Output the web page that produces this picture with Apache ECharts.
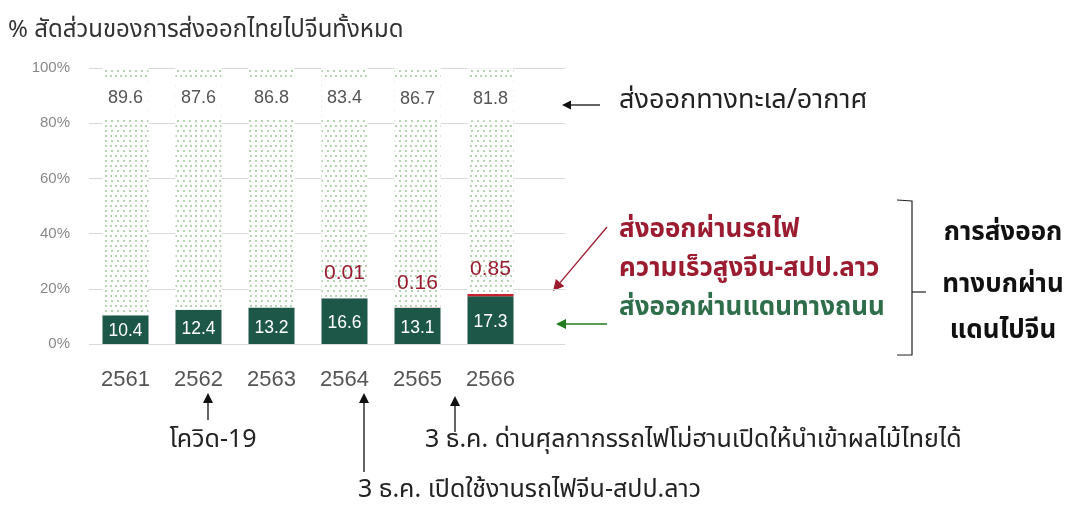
<!DOCTYPE html>
<html><head><meta charset="utf-8">
<script src="https://cdn.jsdelivr.net/npm/echarts@6/dist/echarts.min.js"></script>
<style>html,body{margin:0;padding:0;background:#fff}#c{width:1068px;height:507px}</style>
</head><body><div id="c"></div>
<script>
const years = ['2561','2562','2563','2564','2565','2566'];
const road = [10.4, 12.4, 13.2, 16.6, 13.1, 17.3];
const rail = [0, 0, 0, 0.01, 0.16, 0.85];
const seaAir = [89.6, 87.6, 86.8, 83.4, 86.7, 81.8];
const yTicks = [0, 20, 40, 60, 80, 100];

const TH = '"Noto Sans Thai", "Noto Sans", "DejaVu Sans", sans-serif';
const NUM = '"Liberation Sans", Arial, sans-serif';

function arrow(x1, y1, x2, y2, color, head) {
  head = head || 9;
  const a = Math.atan2(y2 - y1, x2 - x1);
  const bx = x2 - head * Math.cos(a), by = y2 - head * Math.sin(a);
  const w = head * 0.5;
  const px = -Math.sin(a) * w, py = Math.cos(a) * w;
  return [
    {type:'line', shape:{x1:x1, y1:y1, x2:bx, y2:by}, style:{stroke:color, lineWidth:1.3}},
    {type:'polygon', shape:{points:[[x2,y2],[bx+px,by+py],[bx-px,by-py]]}, style:{fill:color}}
  ];
}
function txt(x, y, t, opt) {
  return {type:'text', x:x, y:y, style:Object.assign({text:t, font:'25px ' + TH, fill:'#222', textVerticalAlign:'middle'}, opt || {})};
}

const red = '#9b1c31', green = '#2f6e4a';
const graphics = [].concat(
  [txt(8, 32, '% สัดส่วนของการส่งออกไทยไปจีนทั้งหมด', {font:'24px ' + TH, fill:'#333'})],
  arrow(600, 105, 562, 105, '#111'),
  [txt(619, 103, 'ส่งออกทางทะเล/อากาศ', {font:'27px ' + TH})],
  arrow(607, 227, 553, 291, red, 11),
  [txt(619, 232, 'ส่งออกผ่านรถไฟ', {fill:red, font:'bold 26px ' + TH}),
   txt(619, 271, 'ความเร็วสูงจีน-สปป.ลาว', {fill:red, font:'bold 26px ' + TH}),
   txt(619, 310, 'ส่งออกผ่านแดนทางถนน', {fill:green, font:'bold 26px ' + TH})],
  arrow(607, 324, 556, 324, '#1e7b1e', 10),
  [{type:'polyline', shape:{points:[[897,200],[912,201],[912,355],[897,355]]}, style:{stroke:'#222', lineWidth:1.2, fill:null}},
   {type:'line', shape:{x1:912, y1:292, x2:926, y2:292}, style:{stroke:'#222', lineWidth:1.2}},
   txt(1003, 235, 'การส่งออก', {font:'bold 26px ' + TH, fill:'#111', textAlign:'center'}),
   txt(1003, 287, 'ทางบกผ่าน', {font:'bold 26px ' + TH, fill:'#111', textAlign:'center'}),
   txt(1003, 333, 'แดนไปจีน', {font:'bold 26px ' + TH, fill:'#111', textAlign:'center'})],
  arrow(208, 420, 208, 393, '#111', 10),
  [txt(213, 442, 'โควิด-19', {font:'25px ' + TH, textAlign:'center'})],
  arrow(364, 472, 364, 393, '#111', 10),
  [txt(358, 492, '3 ธ.ค. เปิดใช้งานรถไฟจีน-สปป.ลาว', {font:'25px ' + TH})],
  arrow(455, 432, 455, 396, '#111', 10),
  [txt(425, 442, '3 ธ.ค. ด่านศุลกากรรถไฟโม่ฮานเปิดให้นำเข้าผลไม้ไทยได้', {font:'25px ' + TH})]
);

const chart = echarts.init(document.getElementById('c'));
chart.setOption({
  animation: false,
  backgroundColor: '#fff',
  grid: [
    {left: 89, width: 438, top: 68, height: 276},
    {left: 89, width: 476, top: 68, height: 276}
  ],
  xAxis: [
    {type:'category', data: years, gridIndex:0,
     axisLine:{show:false}, axisTick:{show:false},
     axisLabel:{color:'#555', fontSize:22, fontFamily:NUM, margin:25}},
    {type:'value', gridIndex:1, show:false, min:0, max:1}
  ],
  yAxis: [
    {type:'value', gridIndex:0, min:0, max:100, interval:20,
     axisLine:{show:false}, axisTick:{show:false}, splitLine:{show:false},
     axisLabel:{color:'#888', fontSize:15, fontFamily:NUM, margin:19, formatter:'{value}%'}},
    {type:'value', gridIndex:1, min:0, max:100, interval:20,
     axisLine:{show:false}, axisTick:{show:false}, axisLabel:{show:false},
     splitLine:{lineStyle:{color:'#d9d9d9', width:1}}}
  ],
  series: [
    {type:'bar', name:'road', stack:'s', data: road, barWidth:46, z:3,
     itemStyle:{color:'#1d5748'},
     label:{show:true, position:'inside', color:'#fff', fontSize:17.5, fontFamily:NUM, offset:[0,2]}},
    {type:'bar', name:'rail', stack:'s', data: rail, barWidth:46, z:3,
     itemStyle:{color:'#c8202f'},
     label:{show:true, position:'top', distance:14, color:red, fontSize:21, fontFamily:NUM,
            formatter: p => p.value > 0 ? p.value.toFixed(2) : ''}},
    {type:'bar', name:'sea', stack:'s', data: seaAir, barWidth:46, z:3,
     itemStyle:{color:'#fff', decal:{symbol:'circle', symbolSize:1, color:'#9dc596',
        dashArrayX:[[2,3],[0,2.5,2,0.5]], dashArrayY:[2,2.5], rotation:0}},
     label:{show:true, position:'insideTop', distance:9, color:'#555', fontSize:18, fontFamily:NUM,
            backgroundColor:'#fff', width:46, height:43, lineHeight:43, align:'center',
            formatter: p => p.value.toFixed(1)}}
  ],
  graphic: graphics
});
</script></body></html>
